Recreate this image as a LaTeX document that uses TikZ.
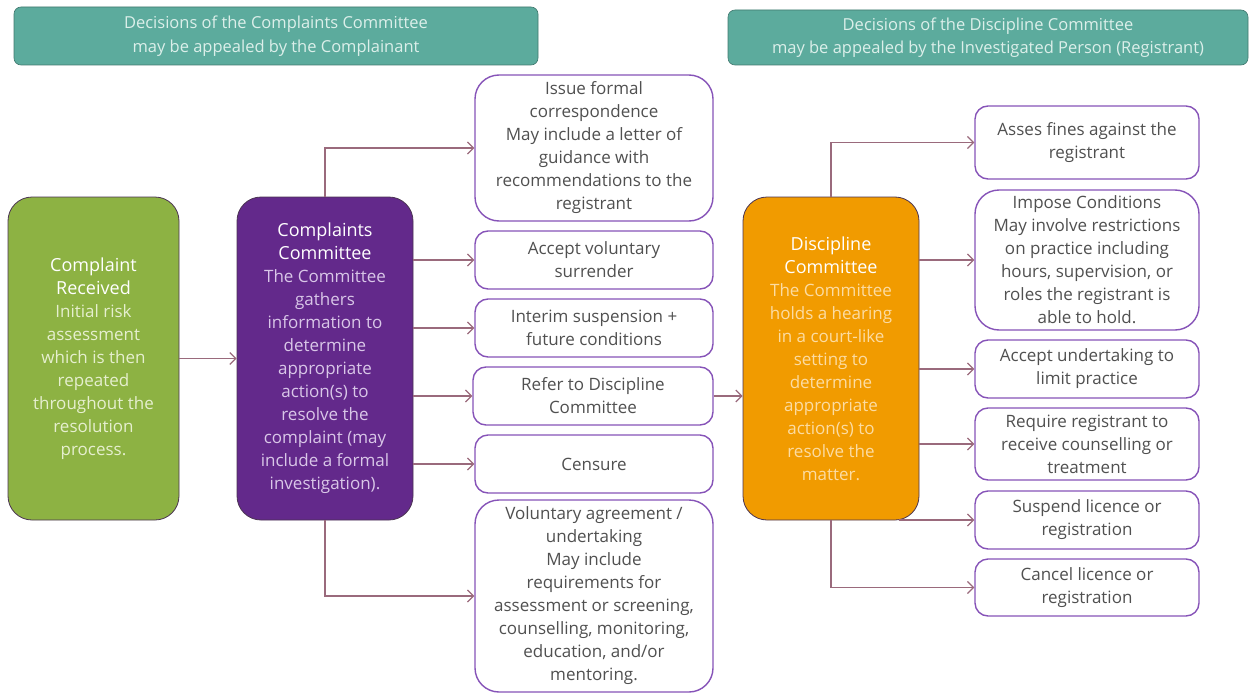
\documentclass[tikz,border=0pt]{standalone}
\usepackage{fontspec}
\setmainfont{Open Sans}
\usetikzlibrary{arrows.meta}
\definecolor{bannerfill}{HTML}{5CAB9D}
\definecolor{bannertext}{HTML}{DCEFEA}
\definecolor{greenfill}{HTML}{8DB243}
\definecolor{greenbody}{HTML}{E6EFCF}
\definecolor{purplefill}{HTML}{63298B}
\definecolor{purplebody}{HTML}{D9C7E8}
\definecolor{orangefill}{HTML}{F19B00}
\definecolor{orangebody}{HTML}{FCDCA3}
\definecolor{boxedge}{HTML}{8653B8}
\definecolor{darkedge}{HTML}{4B3452}
\definecolor{linkcol}{HTML}{9A6A7C}
\definecolor{txt}{HTML}{505050}
\newcommand{\hd}[1]{\textcolor{white}{\fontsize{18}{23}\selectfont #1}}
\tikzset{
  x=1pt, y=-1pt,
  every node/.style={font=\fontsize{17}{23}\selectfont, align=center, inner sep=2pt},
  bannerbox/.style={fill=bannerfill, draw=bannerfill!70!black, line width=0.6pt,
    rounded corners=7pt, text=bannertext, font=\fontsize{16.5}{22.5}\selectfont},
  stagebox/.style={draw=darkedge, line width=0.8pt, rounded corners=24pt},
  optbox/.style={draw=boxedge, line width=1.4pt, rounded corners=13pt,
    fill=white, text=txt},
  tallbox/.style={optbox, rounded corners=24pt},
  linkarrow/.style={draw=linkcol, line width=1.2pt,
    -{Straight Barb[length=6pt,width=12pt,line width=1.2pt]}},
}
\begin{document}
\begin{tikzpicture}
\useasboundingbox (0,0) rectangle (1250,693);

% appeal banners
\node[bannerbox, minimum width=524pt, minimum height=58pt] (appA) at (276,36)
  {\raisebox{-3pt}{\shortstack{Decisions of the Complaints Committee\\[4pt]may be appealed by the Complainant}}};
\node[bannerbox, minimum width=520pt, minimum height=55pt] (appB) at (988,37.5)
  {\raisebox{-3pt}{\shortstack{Decisions of the Discipline Committee\\[4pt]may be appealed by the Investigated Person (Registrant)}}};

% main stages
\node[stagebox, fill=greenfill, text=greenbody, minimum width=171pt, minimum height=323pt] (recv) at (93.5,358.5)
  {\hd{Complaint}\\\hd{Received}\\Initial risk\\assessment\\which is then\\repeated\\throughout the\\resolution\\process.};
\node[stagebox, fill=purplefill, text=purplebody, minimum width=176pt, minimum height=323pt] (comp) at (325,358.5)
  {\hd{Complaints}\\\hd{Committee}\\The Committee\\gathers\\information to\\determine\\appropriate\\action(s) to\\resolve the\\complaint (may\\include a formal\\investigation).};
\node[stagebox, fill=orangefill, text=orangebody, minimum width=176pt, minimum height=323pt] (disc) at (831,358.5)
  {\hd{Discipline}\\\hd{Committee}\\The Committee\\holds a hearing\\in a court-like\\setting to\\determine\\appropriate\\action(s) to\\resolve the\\matter.};

% outcomes of the Complaints Committee
\node[tallbox, minimum width=238pt, minimum height=146pt] (c1) at (594,148)
  {Issue formal\\correspondence\\May include a letter of\\guidance with\\recommendations to the\\registrant};
\node[optbox, minimum width=238pt, minimum height=58pt] (c2) at (594,260) {Accept voluntary\\surrender};
\node[optbox, minimum width=238pt, minimum height=58pt] (c3) at (594,328) {Interim suspension +\\future conditions};
\node[optbox, minimum width=240pt, minimum height=58pt] (c4) at (593,396) {Refer to Discipline\\Committee};
\node[optbox, minimum width=238pt, minimum height=58pt] (c5) at (594,464) {Censure};
\node[tallbox, minimum width=238pt, minimum height=192pt] (c6) at (594,596)
  {Voluntary agreement /\\undertaking\\May include\\requirements for\\assessment or screening,\\counselling, monitoring,\\education, and/or\\mentoring.};

% outcomes of the Discipline Committee
\node[optbox, minimum width=224pt, minimum height=73pt] (d1) at (1087,142.5) {Asses fines against the\\registrant};
\node[tallbox, minimum width=224pt, minimum height=140pt] (d2) at (1087,260)
  {Impose Conditions\\May involve restrictions\\on practice including\\hours, supervision, or\\roles the registrant is\\able to hold.};
\node[optbox, minimum width=224pt, minimum height=58pt] (d3) at (1087,369) {Accept undertaking to\\limit practice};
\node[optbox, minimum width=224pt, minimum height=72pt] (d4) at (1087,444) {Require registrant to\\receive counselling or\\treatment};
\node[optbox, minimum width=224pt, minimum height=58pt] (d5) at (1087,520) {Suspend licence or\\registration};
\node[optbox, minimum width=224pt, minimum height=57pt] (d6) at (1087,587.5) {Cancel licence or\\registration};

% connectors
\draw[linkarrow] (recv.east) -- (comp.west);
\draw[linkarrow] (comp.north) |- (c1.west);
\draw[linkarrow] (comp.east |- c2.west) -- (c2.west);
\draw[linkarrow] (comp.east |- c3.west) -- (c3.west);
\draw[linkarrow] (comp.east |- c4.west) -- (c4.west);
\draw[linkarrow] (comp.east |- c5.west) -- (c5.west);
\draw[linkarrow] (comp.south) |- (c6.west);
\draw[linkarrow] (c4.east) -- (disc.west |- c4.east);

\draw[linkarrow] (disc.north) |- (d1.west);
\draw[linkarrow] (disc.east |- d2.west) -- (d2.west);
\draw[linkarrow] (disc.east |- d3.west) -- (d3.west);
\draw[linkarrow] (disc.east |- d4.west) -- (d4.west);
\draw[linkarrow] ([xshift=-20pt]disc.east |- d5.west) -- (d5.west);
\draw[linkarrow] (disc.south) |- (d6.west);
\end{tikzpicture}
\end{document}
